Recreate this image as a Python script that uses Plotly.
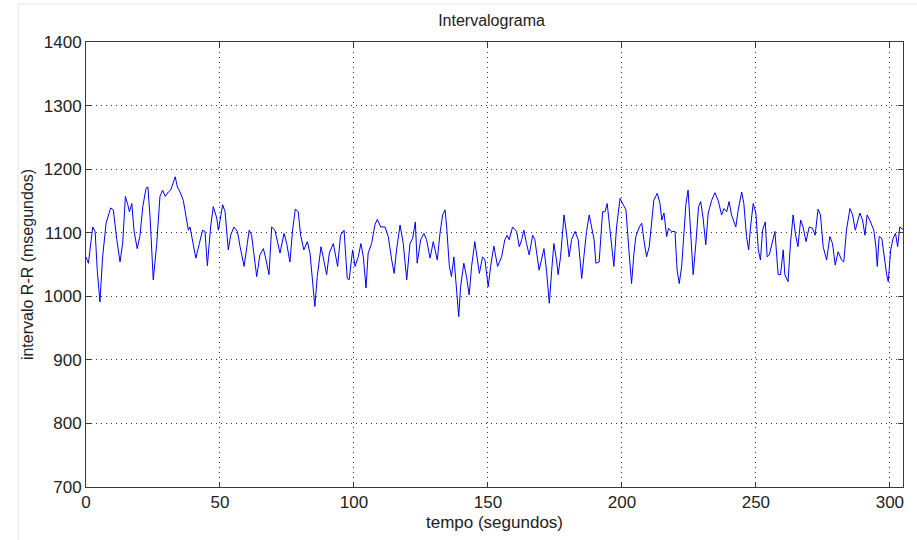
import plotly.graph_objects as go

tempo_s = [
    0.0, 0.9, 2.5, 3.4, 4.2, 5.2, 6.2, 7.5, 9.2, 10.2, 11.5, 12.7, 13.7, 14.7, 15.6, 16.2, 17.1, 17.9,
    19.1, 20.1, 21.2, 22.4, 23.1, 23.9, 25.1, 26.4, 27.6, 28.6, 29.6, 30.7, 31.6, 32.4, 33.3, 34.1,
    35.1, 36.3, 37.6, 38.2, 38.8, 40.0, 41.0, 42.3, 43.5, 44.4, 45.3, 46.5, 47.5, 48.8,
    49.4, 51.0, 51.9, 53.1, 54.0, 55.2, 56.5, 57.5, 59.0, 60.2, 60.9, 61.8, 63.7, 64.9, 66.2, 67.2,
    68.3, 69.3, 70.5, 72.4, 73.9, 74.9, 76.1, 77.1, 78.1, 79.2, 80.1, 81.3, 82.6, 83.6, 84.8, 85.4,
    86.3, 87.7, 88.5, 89.8, 90.8, 92.3, 93.9, 95.0, 96.3, 97.5,
    98.2, 99.5, 100.4, 101.6, 102.6, 103.5, 104.5, 105.3, 106.6, 107.8, 108.7, 110.0, 111.6, 112.8,
    114.1, 115.0, 115.9, 117.2, 118.4, 119.7, 120.9, 121.9, 122.9, 123.6, 124.9, 126.1, 127.1, 128.4,
    129.6, 131.1, 132.1, 133.1, 134.0, 134.6, 135.6, 136.4, 137.3, 138.3, 139.1, 139.8, 141.0, 142.0,
    143.0, 143.9, 145.1, 146.8, 148.0, 148.9, 150.1, 151.0, 152.2, 153.6, 155.1, 156.3, 157.2, 157.9,
    159.2, 160.7, 161.7, 162.6, 163.4, 164.4, 165.4, 166.7, 167.5, 169.1, 170.0, 170.9, 171.9, 172.9,
    173.8, 174.6, 175.6, 176.2, 177.1, 178.4, 179.4, 180.3, 181.2, 182.5, 183.7, 185.0, 185.8, 186.8,
    187.8, 188.7, 189.6, 190.3, 191.5,
    192.8, 193.7, 194.5, 195.5, 196.8, 197.0, 198.0, 199.3, 200.5, 201.5, 202.7, 203.6, 204.5, 205.2,
    206.5, 207.4, 208.2, 209.2, 210.2, 211.1, 211.9, 213.2, 214.2, 214.9, 215.7, 216.7, 217.4, 218.5,
    219.8, 220.6, 221.4, 222.3, 223.1, 223.9, 224.7, 225.4, 226.0, 226.6, 227.6, 228.6, 229.4, 230.3,
    231.3, 232.2, 233.5, 234.7, 235.9, 237.2, 238.1, 239.1, 240.0, 240.9, 242.5,
    243.4, 244.7, 245.5, 246.5, 247.3, 248.0, 249.0, 250.0, 250.9, 251.7, 252.5, 253.5, 254.2, 255.0,
    255.9, 257.1, 258.3, 259.2, 260.2, 260.8, 262.0, 262.9, 263.9, 264.7, 265.7, 266.7, 267.6, 268.7,
    269.9, 271.1, 272.1, 273.2, 274.1, 275.1, 276.4, 277.6, 278.6, 279.6, 280.7, 282.0, 282.8, 283.8,
    285.1, 286.1, 287.1, 287.8, 288.8, 289.8, 290.7, 291.5, 292.5, 294.0, 294.8, 295.3, 296.0, 297.0,
    297.8, 298.8, 299.4, 300.3, 301.2, 302.1, 302.9, 303.7, 304.9,
]

intervalo_rr_ms = [
    1062, 1052, 1109, 1102, 1041, 991, 1062, 1115, 1139, 1136, 1089, 1054, 1084, 1157, 1144, 1133, 1146, 1104,
    1075, 1094, 1141, 1170, 1172, 1125, 1026, 1083, 1157, 1167, 1157, 1164, 1167, 1178, 1188, 1172,
    1164, 1151, 1115, 1104, 1109, 1083, 1060, 1083, 1104, 1102, 1048, 1109, 1141, 1123,
    1104, 1144, 1133, 1073, 1096, 1109, 1102, 1078, 1047, 1083, 1104, 1096, 1031, 1065, 1075, 1057,
    1034, 1109, 1104, 1068, 1099, 1083, 1054, 1104, 1137, 1133, 1096, 1073, 1086, 1068, 1018, 984,
    1031, 1078, 1062, 1034, 1068, 1083, 1047, 1096, 1104, 1028,
    1026, 1073, 1047, 1062, 1083, 1062, 1013, 1068, 1083, 1112, 1121, 1109, 1109, 1094,
    1057, 1036, 1073, 1112, 1083, 1026, 1083, 1091, 1117, 1052, 1089, 1099, 1089, 1060,
    1086, 1057, 1099, 1128, 1136, 1109, 1047, 1031, 1062, 1010, 968, 1015, 1052, 1031,
    1002, 1047, 1086, 1036, 1062, 1057, 1015, 1047, 1079, 1047, 1062, 1089, 1096, 1089,
    1109, 1102, 1078, 1089, 1104, 1083, 1065, 1096, 1089, 1041, 1057, 1075, 1039, 989,
    1041, 1083, 1057, 1034, 1062, 1128, 1096, 1062, 1089, 1102, 1089, 1028, 1062, 1102,
    1128, 1109, 1089, 1052, 1054,
    1133, 1133, 1146, 1109, 1062, 1047, 1109, 1154, 1144, 1136, 1068, 1020, 1068, 1094,
    1109, 1115, 1089, 1062, 1078, 1120, 1151, 1162, 1146, 1120, 1131, 1094, 1107, 1102,
    1102, 1041, 1020, 1047, 1099, 1146, 1167, 1120, 1083, 1034, 1083, 1141, 1149, 1123,
    1081, 1131, 1151, 1163, 1151, 1128, 1138, 1133, 1149, 1128, 1109,
    1136, 1164, 1146, 1094, 1073, 1109, 1146, 1131, 1073, 1057, 1104, 1117, 1062, 1065,
    1083, 1102, 1034, 1034, 1073, 1034, 1023, 1083, 1128, 1099, 1078, 1120, 1109, 1086,
    1109, 1107, 1096, 1137, 1128, 1078, 1057, 1094, 1083, 1049, 1070, 1057, 1054, 1104,
    1138, 1128, 1104, 1117, 1131, 1120, 1096, 1128, 1120, 1104, 1078, 1047, 1094, 1091,
    1062, 1034, 1023, 1073, 1091, 1099, 1078, 1109, 1105,
]

x_ticks = [0, 50, 100, 150, 200, 250, 300]
y_ticks = [700, 800, 900, 1000, 1100, 1200, 1300, 1400]

FONT = "Liberation Sans, Arial, sans-serif"
TEXT_COLOR = "#222222"

fig = go.Figure()
fig.add_trace(go.Scatter(
    x=tempo_s, y=intervalo_rr_ms, mode="lines",
    line=dict(color="rgb(0,0,255)", width=1),
    showlegend=False, hoverinfo="x+y",
))

axis_common = dict(
    showline=True, linecolor="#3a3a3a", linewidth=1, mirror="allticks",
    ticks="inside", ticklen=5, tickcolor="#3a3a3a",
    showgrid=True, gridcolor="rgba(0,0,0,0.8)", griddash="1px,4px", gridwidth=1,
    zeroline=False, tickfont=dict(family=FONT, size=17, color=TEXT_COLOR),
)

fig.update_layout(
    width=917, height=540,
    margin=dict(l=86, r=14, t=42, b=53),
    paper_bgcolor="white", plot_bgcolor="white",
    title=dict(text="Intervalograma", x=0.536, xanchor="center", y=0.963, yanchor="middle",
               font=dict(family=FONT, size=16, color=TEXT_COLOR)),
    xaxis=dict(range=[0, 304.9], tickvals=x_ticks,
               title=dict(text="tempo (segundos)", standoff=4,
                          font=dict(family=FONT, size=17, color=TEXT_COLOR)),
               **axis_common),
    yaxis=dict(range=[700, 1400], tickvals=y_ticks,
               title=dict(text="intervalo R-R (msegundos)", standoff=6,
                          font=dict(family=FONT, size=16, color=TEXT_COLOR)),
               **axis_common),
    shapes=[
        dict(type="line", xref="paper", yref="paper", x0=-0.083, x1=-0.083, y0=-0.12, y1=1.085,
             line=dict(color="#e6e6e6", width=1)),
        dict(type="line", xref="paper", yref="paper", x0=-0.083, x1=1.02, y0=1.085, y1=1.085,
             line=dict(color="#e6e6e6", width=1)),
    ],
)

fig.write_html("out.html")
